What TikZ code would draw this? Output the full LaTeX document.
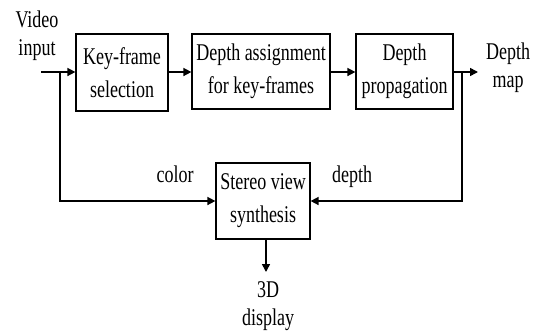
\documentclass[tikz,border=0pt]{standalone}
\usepackage{fontspec}
\setmainfont{Liberation Serif}[FakeStretch=0.75]
\usetikzlibrary{arrows.meta}
\begin{document}
\begin{tikzpicture}[x=1pt,y=-1pt,
  box/.style={draw, line width=1.2pt, align=center, inner sep=0pt,
    font=\fontsize{24}{33}\selectfont},
  lbl/.style={align=center, inner sep=0pt, font=\fontsize{24}{28}\selectfont},
  conn/.style={line width=1.5pt, -{Triangle[length=8pt,width=8pt]}},
  plain/.style={line width=1.5pt}]
\useasboundingbox (0,0) rectangle (540,333);
\node[box, minimum width=92pt, minimum height=77pt] (kf) at (122,72.5) {Key-frame\\selection};
\node[box, minimum width=138pt, minimum height=75pt] (da) at (261,71.5) {Depth assignment\\for key-frames};
\node[box, minimum width=97pt, minimum height=75pt] (dp) at (404.5,71.5) {Depth\\propagation};
\node[box, minimum width=94pt, minimum height=76pt] (sv) at (263,201) {Stereo view\\synthesis};
\node[lbl] (vi) at (37,36) {Video\\input};
\node[lbl] (dm) at (508,68) {Depth\\map};
\node[lbl, anchor=base] (col) at (175,182) {color};
\node[lbl, anchor=base] (dep) at (352,182) {depth};
\node[lbl] (disp) at (268,306) {3D\\display};
\coordinate (in) at (41,72);
\coordinate (b1) at (60,72);
\coordinate (b2) at (462,72);
\coordinate (out) at (478,72);
\coordinate (down) at (266,272);
\draw[plain] (in) -- (b1);
\draw[conn] (b1) -- (kf.west |- b1);
\draw[conn] (kf.east |- b1) -- (da.west |- b1);
\draw[conn] (da.east |- b1) -- (dp.west |- b1);
\draw[plain] (dp.east |- b2) -- (b2);
\draw[conn] (b2) -- (out);
\draw[conn] (b1) |- (sv.west);
\draw[conn] (b2) |- (sv.east);
\draw[conn] (sv.south -| down) -- (down);
\end{tikzpicture}
\end{document}
